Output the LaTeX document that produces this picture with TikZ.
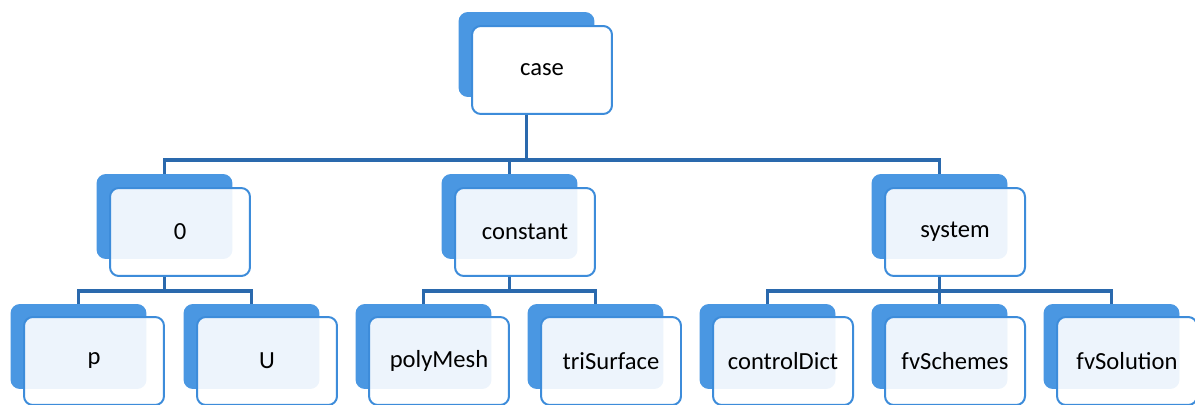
\documentclass[tikz,border=0pt]{standalone}
\usepackage{fontspec}
\setmainfont{Carlito}
\usepackage{tikz}
\usetikzlibrary{positioning, calc}
\definecolor{folderblue}{HTML}{4A97E2}
\definecolor{edgeblue}{HTML}{3D8CDA}
\definecolor{treeblue}{HTML}{2A69AD}
\tikzset{
  backbox/.style={
    rectangle, rounded corners=5pt, fill=folderblue, draw=folderblue,
    line width=0.5pt, minimum width=2.70cm, minimum height=1.68cm, inner sep=0pt
  },
  frontbox/.style={
    rectangle, rounded corners=5pt, draw=edgeblue, line width=0.04cm,
    fill=white, fill opacity=0.9, text opacity=1,
    minimum width=2.80cm, minimum height=1.76cm, inner sep=0pt,
    font=\fontsize{14}{16}\selectfont
  },
  topbox/.style={frontbox, fill opacity=1},
  treeline/.style={draw=treeblue, line width=0.07cm}
}

\begin{document}
\begin{tikzpicture}[x=0.02cm, y=-0.02cm]
  \useasboundingbox (0,0) rectangle (1195,405);

  % ── root ──
  \node[backbox] (case-back) at (526.5,54.5) {};
  \node[topbox] (case) at ([shift={(15.5,15.5)}]case-back) {case};

  % ── first level ──
  \node[backbox] (zero-back) at (164.5,216.5) {};
  \node[frontbox] (zero) at ([shift={(15.5,15.5)}]zero-back) {0};

  \node[backbox] (constant-back) at (509.5,216.5) {};
  \node[frontbox] (constant) at ([shift={(15.5,15.5)}]constant-back) {constant};

  \node[backbox] (system-back) at (939.5,216.5) {};
  \node[frontbox] (system) at ([shift={(15.5,15.5)}]system-back) {system};

  % ── second level ──
  \node[backbox] (p-back) at (78.5,346.5) {};
  \node[frontbox] (p) at ([shift={(15.5,14.5)}]p-back) {p};

  \node[backbox] (U-back) at (251.5,346.5) {};
  \node[frontbox] (U) at ([shift={(15.5,14.5)}]U-back) {U};

  \node[backbox] (polyMesh-back) at (423.5,346.5) {};
  \node[frontbox] (polyMesh) at ([shift={(15.5,14.5)}]polyMesh-back) {polyMesh};

  \node[backbox] (triSurface-back) at (595.5,346.5) {};
  \node[frontbox] (triSurface) at ([shift={(15.5,14.5)}]triSurface-back) {triSurface};

  \node[backbox] (controlDict-back) at (767.5,346.5) {};
  \node[frontbox] (controlDict) at ([shift={(15.5,14.5)}]controlDict-back) {controlDict};

  \node[backbox] (fvSchemes-back) at (939.5,346.5) {};
  \node[frontbox] (fvSchemes) at ([shift={(15.5,14.5)}]fvSchemes-back) {fvSchemes};

  \node[backbox] (fvSolution-back) at (1111.5,346.5) {};
  \node[frontbox] (fvSolution) at ([shift={(15.5,14.5)}]fvSolution-back) {fvSolution};

  % ── tree lines ──
  \coordinate (bus-case) at (0,160);
  \coordinate (bus-zero) at (0,291);
  \coordinate (bus-constant) at (0,291);
  \coordinate (bus-system) at (0,291);

  \foreach \kid in {zero, constant, system}
    \draw[treeline] (case-back.south |- case.south) -- (case-back |- bus-case) -| (\kid-back.north);

  \foreach \kid in {p, U}
    \draw[treeline] (zero-back.south |- zero.south) -- (zero-back |- bus-zero) -| (\kid-back.north);

  \foreach \kid in {polyMesh, triSurface}
    \draw[treeline] (constant-back.south |- constant.south) -- (constant-back |- bus-constant) -| (\kid-back.north);

  \foreach \kid in {controlDict, fvSchemes, fvSolution}
    \draw[treeline] (system-back.south |- system.south) -- (system-back |- bus-system) -| (\kid-back.north);
\end{tikzpicture}
\end{document}
